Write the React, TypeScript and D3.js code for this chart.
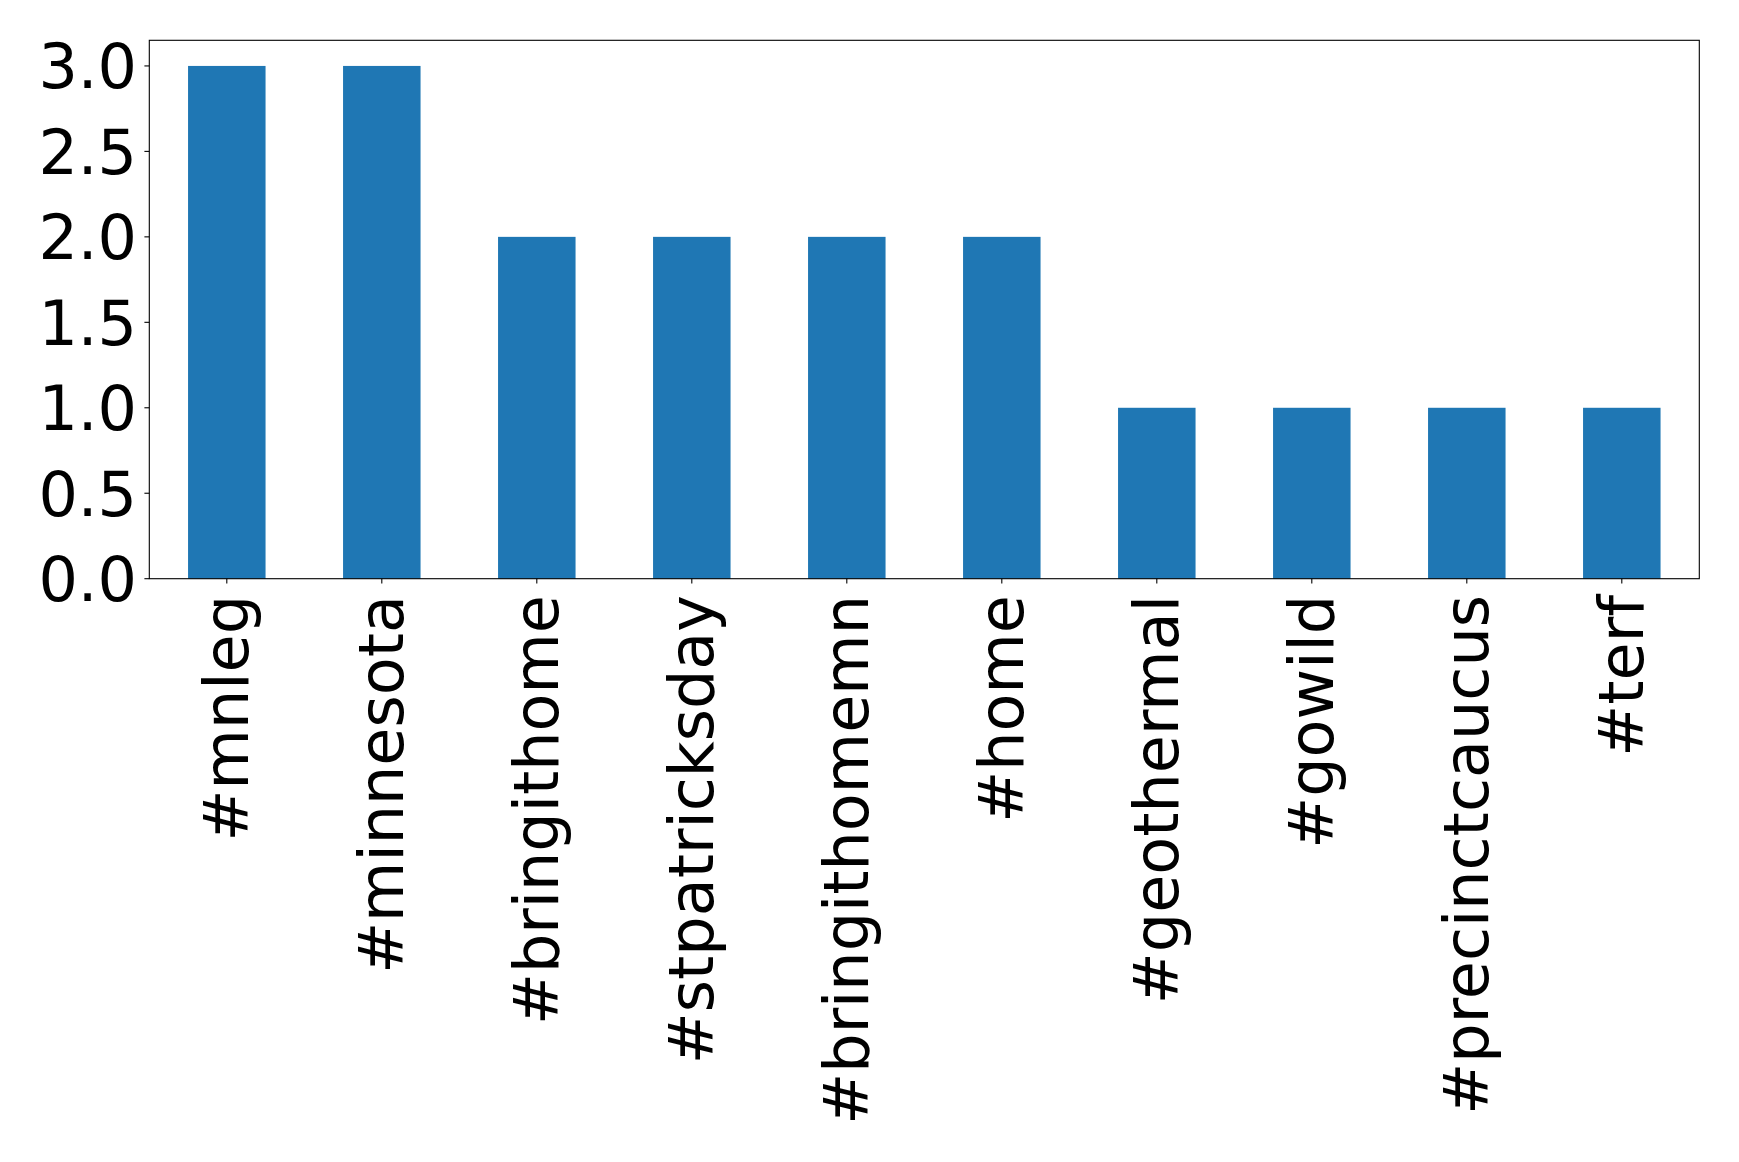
import React from "react";
import * as d3 from "d3";

const categories = [
  "#mnleg",
  "#minnesota",
  "#bringithome",
  "#stpatricksday",
  "#bringithomemn",
  "#home",
  "#geothermal",
  "#gowild",
  "#precinctcaucus",
  "#terf",
];
const counts = [3, 3, 2, 2, 2, 2, 1, 1, 1, 1];
const yTicks = [0, 0.5, 1.0, 1.5, 2.0, 2.5, 3.0];

const W = 1739;
const H = 1162;
const left = 149.3;
const right = 1699.3;
const top = 40.3;
const bottom = 578.7;
const FONT = "'DejaVu Sans', sans-serif";
const FS = 62;

export default function App() {
  const x = d3
    .scaleLinear()
    .domain([-0.5, categories.length - 0.5])
    .range([left, right]);
  const y = d3.scaleLinear().domain([0, 3.15]).range([bottom, top]);
  const barW = x(0.5) - x(0);
  const fmt = d3.format(".1f");
  const tickLen = 4.9;

  return (
    <svg
      width={W}
      height={H}
      style={{ position: "absolute", left: 0, top: 0, background: "#fff" }}
    >
      <rect x={0} y={0} width={W} height={H} fill="#fff" />
      {counts.map((v, i) => (
        <rect
          key={categories[i]}
          x={x(i) - barW / 2}
          y={y(v)}
          width={barW}
          height={y(0) - y(v)}
          fill="#1f77b4"
        />
      ))}
      <rect
        x={left}
        y={top}
        width={right - left}
        height={bottom - top}
        fill="none"
        stroke="#000"
        strokeWidth={1.1}
      />
      {yTicks.map((t) => (
        <g key={t}>
          <line
            x1={left - tickLen}
            x2={left}
            y1={y(t)}
            y2={y(t)}
            stroke="#000"
            strokeWidth={1.1}
          />
          <text
            x={137}
            y={y(t)}
            dy="0.36em"
            textAnchor="end"
            fontFamily={FONT}
            fontSize={FS}
            fill="#000"
          >
            {fmt(t)}
          </text>
        </g>
      ))}
      {categories.map((c, i) => (
        <g key={c}>
          <line
            x1={x(i)}
            x2={x(i)}
            y1={bottom}
            y2={bottom + tickLen}
            stroke="#000"
            strokeWidth={1.1}
          />
          <text
            transform={`translate(${x(i) + 21.5},${595}) rotate(-90)`}
            textAnchor="end"
            fontFamily={FONT}
            fontSize={FS}
            fill="#000"
          >
            {c}
          </text>
        </g>
      ))}
    </svg>
  );
}
